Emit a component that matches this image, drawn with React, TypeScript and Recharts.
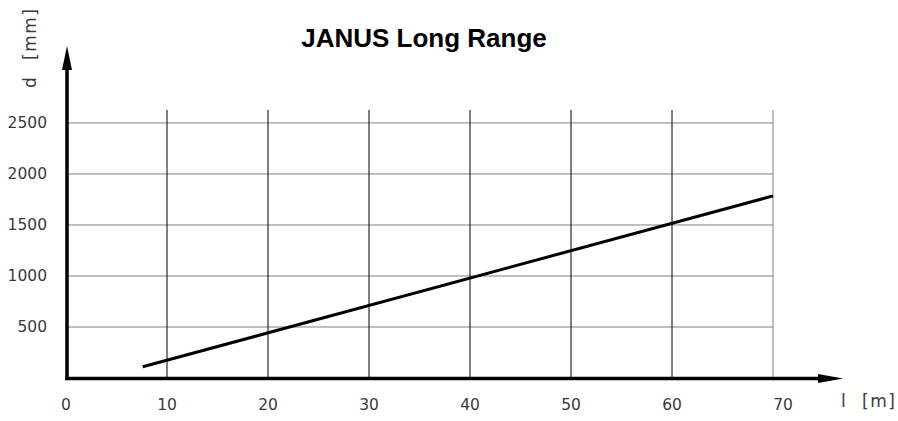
import React from 'react';
import { LineChart, Line, XAxis, YAxis, CartesianGrid, ReferenceLine } from 'recharts';

// readings: distance l [m] vs diameter d [mm]
const rangeM = [7.6, 70];
const diameterMm = [110, 1785];
const xTicks = [0, 10, 20, 30, 40, 50, 60, 70];
const yTicks = [500, 1000, 1500, 2000, 2500];
const gridX = [10, 20, 30, 40, 50, 60];

const data = rangeM.map((l, i) => ({ l, d: diameterMm[i] }));

const tickFont = { fontFamily: 'DejaVu Sans', fontSize: 15.5, fill: '#3a3a3a' };

const XTick = (props: any) => {
  const { x, y, payload } = props;
  // the last label sits a bit right of its grid line in the original
  const shift = payload.value === 70 ? 10 : 0;
  return (
    <text x={x + shift} y={y} dy="0.71em" textAnchor="middle" {...tickFont}>
      {payload.value}
    </text>
  );
};

const App: React.FC = () => {
  return (
    <div style={{ position: 'absolute', left: 0, top: 0, width: 898, height: 421, background: '#fff' }}>
      <LineChart
        width={898}
        height={421}
        data={data}
        margin={{ top: 110, right: 125, bottom: 13, left: 6 }}
      >
        <CartesianGrid vertical={false} stroke="#808080" strokeWidth={1} horizontalValues={yTicks} />
        <CartesianGrid horizontal={false} stroke="#000" strokeWidth={1} verticalValues={gridX} />
        <ReferenceLine x={70} stroke="#808080" strokeWidth={1} />
        <XAxis
          dataKey="l"
          type="number"
          domain={[0, 70]}
          ticks={xTicks}
          axisLine={false}
          tickLine={false}
          tickSize={0}
          tickMargin={21}
          height={30}
          tick={<XTick />}
          interval={0}
        />
        <YAxis
          type="number"
          domain={[0, 2627]}
          ticks={yTicks}
          axisLine={false}
          tickLine={false}
          tickSize={0}
          tickMargin={19}
          width={60}
          tick={tickFont}
          interval={0}
        />
        <Line
          dataKey="d"
          type="linear"
          stroke="#000"
          strokeWidth={3}
          dot={false}
          isAnimationActive={false}
        />
      </LineChart>

      <svg
        width={898}
        height={421}
        style={{ position: 'absolute', left: 0, top: 0, pointerEvents: 'none' }}
      >
        <text
          x={424}
          y={47}
          textAnchor="middle"
          fontFamily="Liberation Sans, Arial, sans-serif"
          fontWeight="bold"
          fontSize={26}
          fill="#000"
        >
          JANUS Long Range
        </text>

        {/* axes with arrow heads */}
        <line x1={67} y1={380} x2={67} y2={66} stroke="#000" strokeWidth={3.5} />
        <polygon points="62,70 72,70 67,46" fill="#000" />
        <line x1={65} y1={378.5} x2={822} y2={378.5} stroke="#000" strokeWidth={3.5} />
        <polygon points="818,374 818,383 843,378.5" fill="#000" />

        <text transform="translate(36,88) rotate(-90)" fontFamily="DejaVu Sans" fontSize={17} fill="#3a3a3a">
          d
        </text>
        <text
          transform="translate(36,60) rotate(-90)"
          fontFamily="DejaVu Sans"
          fontSize={17}
          letterSpacing={1.5}
          fill="#3a3a3a"
        >
          [mm]
        </text>
        <text x={841} y={407} fontFamily="DejaVu Sans" fontSize={17} fill="#3a3a3a">
          l
        </text>
        <text x={862} y={407} fontFamily="DejaVu Sans" fontSize={17} letterSpacing={1.5} fill="#3a3a3a">
          [m]
        </text>
      </svg>
    </div>
  );
};

export default App;
